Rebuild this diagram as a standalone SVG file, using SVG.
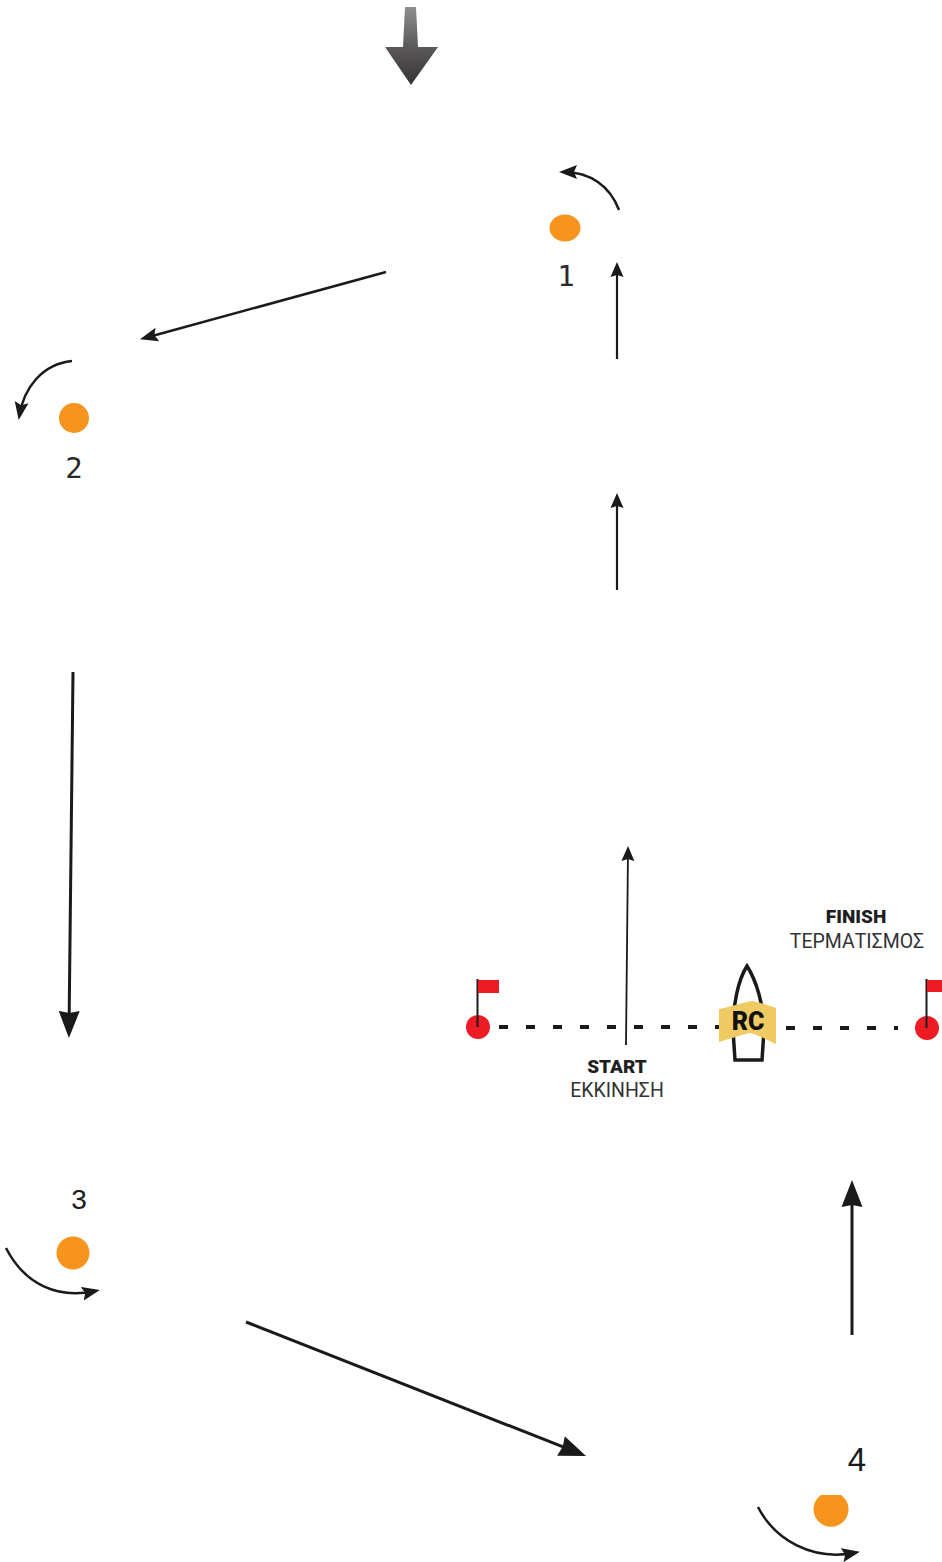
<svg xmlns="http://www.w3.org/2000/svg" width="942" height="1562" viewBox="0 0 942 1562">
<style>
.mark{fill:#f7941d}
.num{font-family:"Liberation Sans",Arial,sans-serif;font-size:28px;fill:#1a1a1a;text-anchor:middle}
.mono{font-family:"DejaVu Sans Mono","Liberation Mono",monospace;font-size:29px;fill:#2a2a2a;text-anchor:middle}
.b{font-family:Roboto,"Liberation Sans",sans-serif;font-weight:900;font-size:19px;fill:#1f1f1f;text-anchor:middle}
.r{font-family:Roboto,"Liberation Sans",sans-serif;font-size:19.5px;fill:#333;text-anchor:middle}
.line{fill:none;stroke:#1a1a1a}
.buoy{fill:#ed1c24}
.pole{stroke:#1a1a1a;stroke-width:2;fill:none}
</style>
<defs>
<linearGradient id="wind" x1="0" y1="0" x2="0" y2="1"><stop offset="0" stop-color="#8f8f8f"/><stop offset="0.5" stop-color="#5c5a5a"/><stop offset="1" stop-color="#353333"/></linearGradient>
<marker id="hs" markerUnits="userSpaceOnUse" markerWidth="16" markerHeight="16" refX="10" refY="8" orient="auto" viewBox="0 0 16 16"><path d="M0 1.500L15 8L0 14.500L2 8Z" fill="#1a1a1a"/></marker>
<marker id="hm" markerUnits="userSpaceOnUse" markerWidth="20" markerHeight="18" refX="13" refY="9" orient="auto" viewBox="0 0 20 18"><path d="M0 2L18 9L0 16L3 9Z" fill="#1a1a1a"/></marker>
<marker id="hl" markerUnits="userSpaceOnUse" markerWidth="30" markerHeight="24" refX="20" refY="12" orient="auto" viewBox="0 0 30 24"><path d="M0 1.500L27 12L0 22.500L2 12Z" fill="#1a1a1a"/></marker>
</defs>

<g id="wind-arrow"><path d="M405 7H416L418 47H438L411 85L385 47H403Z" fill="url(#wind)"/></g>

<g id="connectors">
<path class="line" stroke-width="2.200" d="M617 359V267" marker-end="url(#hs)"/>
<path class="line" stroke-width="2.200" d="M617 590V498" marker-end="url(#hs)"/>
<path class="line" stroke-width="1.800" d="M626 1045L628 851" marker-end="url(#hs)"/>
<path class="line" stroke-width="2.500" d="M386 272L144.800 338" marker-end="url(#hm)"/>
<path class="line" stroke-width="3" d="M73 672L69 1031" marker-end="url(#hl)"/>
<path class="line" stroke-width="3" d="M246 1322L579.500 1453.400" marker-end="url(#hl)"/>
<path class="line" stroke-width="3" d="M852 1335V1187" marker-end="url(#hl)"/>
<path class="line" stroke-width="2.500" d="M619 210C610 186 590 172 564 172" marker-end="url(#hm)"/>
<path class="line" stroke-width="2.500" d="M72 361C42 364 24 388 19.500 415" marker-end="url(#hm)"/>
<path class="line" stroke-width="2.500" d="M6 1248C25 1285 58 1299 95 1291" marker-end="url(#hm)"/>
<path class="line" stroke-width="2.500" d="M758 1507C775 1540 812 1561 855 1552.800" marker-end="url(#hm)"/>
<path d="M499 1027H720M786 1028H898" fill="none" stroke="#1a1a1a" stroke-width="4" stroke-dasharray="9 18"/>
</g>

<g id="mark-1"><ellipse class="mark" cx="565" cy="228" rx="15.500" ry="13.500"/><text class="mono" x="566" y="286">1</text></g>
<g id="mark-2"><circle class="mark" cx="74" cy="418" r="15"/><text class="mono" x="74" y="478">2</text></g>
<g id="mark-3"><circle class="mark" cx="73" cy="1253" r="16.500"/><text class="num" x="79" y="1209">3</text></g>
<g id="mark-4"><path class="mark" d="M821 1495H841A17.500 17.500 0 1 1 821 1495Z"/><text class="num" x="857" y="1471" style="font-size:33px">4</text></g>

<g id="pin-left"><circle class="buoy" cx="478" cy="1027" r="12"/><path class="pole" d="M477.500 979V1027"/><rect class="buoy" x="478" y="980" width="21" height="13"/></g>
<g id="pin-right"><circle class="buoy" cx="927" cy="1028" r="12"/><path class="pole" d="M926.500 979V1028"/><rect class="buoy" x="927" y="980" width="15" height="12"/></g>

<g id="committee-boat">
<path d="M747 966C738 980 733 1005 733 1030L735 1060H762L764 1030C764 1005 756 980 747 966Z" fill="#fff" stroke="#1a1a1a" stroke-width="3.500"/>
<path d="M719 1009C732 1007 742 1002 753 1001C762 1003 770 1006 776 1008V1044C768 1041 760 1035 750 1033C740 1035 730 1039 719 1042Z" fill="#f0cb63"/>
<text x="748" y="1030" text-anchor="middle" style="font-family:Roboto,'Liberation Sans',sans-serif;font-weight:900;font-size:25px;fill:#111">RC</text>
</g>

<g id="labels">
<text class="b" x="617" y="1073">START</text>
<text class="r" x="617" y="1097">ΕΚΚΙΝΗΣΗ</text>
<text class="b" x="856" y="923">FINISH</text>
<text class="r" x="857" y="948">ΤΕΡΜΑΤΙΣΜΟΣ</text>
</g>
</svg>
